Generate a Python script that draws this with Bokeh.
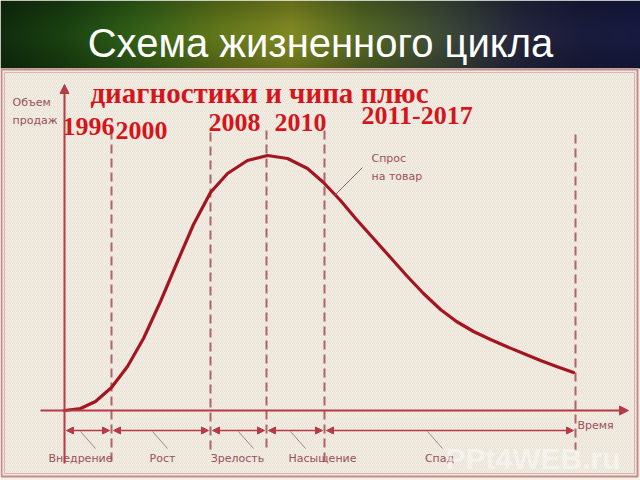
import numpy as np
from bokeh.plotting import figure
from bokeh.models import Range1d, Arrow, NormalHead
from bokeh.core.properties import value
from bokeh.embed import file_html
from bokeh.resources import INLINE

# ---- content -------------------------------------------------------------
title = "Схема жизненного цикла"
product = "диагностики и чипа плюс"
y_axis_label = ["Объем", "продаж"]
x_axis_label = "Время"
curve_label = ["Спрос", "на товар"]
stages = ["Внедрение", "Рост", "Зрелость", "Насыщение", "Спад"]
years = ["1996", "2000", "2008", "2010", "2011-2017"]

# stage boundaries along the time axis (chart units, origin at the axis corner)
stage_bounds = [0, 47, 146, 202, 260, 511]

# demand curve: time vs sales volume (chart units)
time = [0, 16, 31, 47, 63, 79, 96, 113, 129, 146, 163, 183, 203, 223, 243,
        259, 276, 292, 309, 326, 342, 359, 376, 392, 409, 426, 442, 459,
        476, 492, 509]
sales = [0, 2, 9, 23, 44, 72, 109, 149, 186, 218, 237, 250, 255, 252, 242,
         228, 210, 191, 172, 153, 135, 117, 101, 89, 79, 71, 64, 57,
         50, 44, 38]

# ---- page geometry helpers (canvas pixels -> chart units) -----------------
OX, OY = 64, 410
def X(px):
    return px - OX
def Y(py):
    return OY - py

W, H = 640, 480
p = figure(width=W, height=H, output_backend="svg", toolbar_location=None,
           x_range=Range1d(X(0), X(W)), y_range=Range1d(Y(H), Y(0)),
           x_axis_location=None, y_axis_location=None, min_border=0)
p.grid.visible = False
p.outline_line_color = None
p.background_fill_color = "#f4efe7"
p.border_fill_color = "#f4efe7"

# ---- title band with soft green / olive / navy gradient -------------------
band_h = 68
stops_x = [0, 60, 130, 220, 290, 360, 440, 520, 580, 640]
stops_c = [(16, 42, 12), (24, 60, 16), (44, 88, 22), (92, 112, 26),
           (120, 128, 32), (78, 98, 34), (58, 70, 52), (34, 36, 58),
           (24, 26, 56), (22, 24, 60)]
xs = np.arange(W)
rgb = np.stack([np.interp(xs, stops_x, [c[k] for c in stops_c]) for k in range(3)], axis=1)
rows = np.arange(band_h)
shade = 0.82 + 0.25 * np.exp(-((rows - 34) / 26.0) ** 2)
img = np.empty((band_h, W), dtype=np.uint32)
view = img.view(dtype=np.uint8).reshape((band_h, W, 4))
for r in range(band_h):
    col = np.clip(rgb * shade[r], 0, 255)
    rr = band_h - 1 - r  # image rows run bottom-up
    view[rr, :, 0] = col[:, 0]
    view[rr, :, 1] = col[:, 1]
    view[rr, :, 2] = col[:, 2]
    view[rr, :, 3] = 255
p.image_rgba(image=[img], x=X(0), y=Y(band_h), dw=W, dh=band_h)

p.text(x=[X(320)], y=[Y(42)], text=[title], text_color="white",
       text_font=value("Liberation Sans"), text_font_size="40px",
       text_align="center", text_baseline="middle")

# ---- panel with hatched paper and double border ---------------------------
p.quad(left=X(1), right=X(638), top=Y(band_h), bottom=Y(477),
       fill_color="#f4efe7", line_color=None,
       hatch_pattern="/", hatch_color="#e3dacb", hatch_alpha=0.7,
       hatch_scale=4, hatch_weight=1)
p.quad(left=X(1), right=X(637), top=Y(band_h + 1), bottom=Y(476),
       fill_color=None, line_color="#c88c8c", line_width=2)
p.quad(left=X(4), right=X(634), top=Y(band_h + 4), bottom=Y(473),
       fill_color=None, line_color="#d9b4b0", line_width=1)

axis_col = "#b83a44"
dash_col = "#a8545c"
curve_col = "#a4161f"
text_col = "#9c5058"
small_font = value("DejaVu Sans")

# ---- axes -----------------------------------------------------------------
p.add_layout(Arrow(end=NormalHead(size=9, fill_color=axis_col, line_color=axis_col),
                   x_start=X(64), y_start=Y(463), x_end=X(64), y_end=Y(84),
                   line_color=axis_col, line_width=2))
p.add_layout(Arrow(end=NormalHead(size=9, fill_color=axis_col, line_color=axis_col),
                   x_start=X(40), y_start=Y(410), x_end=X(628), y_end=Y(410),
                   line_color=axis_col, line_width=2))

# ---- stage boundaries (dashed) --------------------------------------------
dash_top = [Y(130), Y(132), Y(130), Y(130), Y(134)]
dash_bot = [Y(463), Y(452), Y(448), Y(462), Y(450)]
for b, t, bt in zip(stage_bounds[1:], dash_top, dash_bot):
    p.line(x=[b, b], y=[t, bt], line_color=dash_col, line_width=2,
           line_dash="9 5", line_alpha=0.9)

# ---- stage spans with double arrows, leaders and names --------------------
span_y = Y(430)
name_y = Y(458)
name_x = [X(80), X(162), X(237), X(322), X(439)]
leader_x = [X(80), X(152), X(238), X(290), X(427)]
for i, name in enumerate(stages):
    a, b = stage_bounds[i], stage_bounds[i + 1]
    p.add_layout(Arrow(start=NormalHead(size=7, fill_color=axis_col, line_color=axis_col),
                       end=NormalHead(size=7, fill_color=axis_col, line_color=axis_col),
                       x_start=a + 2, y_start=span_y, x_end=b - 2, y_end=span_y,
                       line_color=axis_col, line_width=1.6))
    lx = leader_x[i]
    p.line(x=[lx, lx + 15], y=[span_y - 1, span_y - 18],
           line_color="#8a7070", line_width=1, line_alpha=0.8)
    p.text(x=[name_x[i]], y=[name_y], text=[name],
           text_color=text_col, text_font=small_font,
           text_font_size="11px", text_align="center", text_baseline="middle")

# ---- axis captions --------------------------------------------------------
p.text(x=[X(12), X(12)], y=[Y(102), Y(120)], text=y_axis_label,
       text_color=text_col, text_font=small_font,
       text_font_size="11px", text_align="left", text_baseline="middle")
p.text(x=[X(577)], y=[Y(425)], text=[x_axis_label],
       text_color=text_col, text_font=small_font,
       text_font_size="11px", text_align="left", text_baseline="middle")

# ---- demand curve ---------------------------------------------------------
p.line(x=time, y=sales, line_color=curve_col, line_width=3.2,
       line_join="round", line_cap="round")
p.line(x=[X(334), X(362)], y=[Y(195), Y(167)], line_color="#8a6868", line_width=1)
p.text(x=[X(371), X(371)], y=[Y(158), Y(176)], text=curve_label,
       text_color=text_col, text_font=small_font,
       text_font_size="11px", text_align="left", text_baseline="middle")

# ---- product caption and years --------------------------------------------
red = "#d4161c"
p.text(x=[X(259)], y=[Y(92)], text=[product], text_color=red,
       text_font=value("Liberation Serif"), text_font_style="bold",
       text_font_size="29px", text_align="center", text_baseline="middle")
year_x = [X(62), X(115), X(208), X(274), X(361)]
year_y = [Y(126), Y(130), Y(122), Y(122), Y(115)]
p.text(x=year_x, y=year_y, text=years, text_color=red,
       text_font=value("Liberation Serif"), text_font_style="bold",
       text_font_size="26px", text_align="left", text_baseline="middle")

# faint site mark
p.text(x=[X(445)], y=[Y(458)], text=["PPt4WEB.ru"], text_color="white",
       text_alpha=0.45, text_font=value("Liberation Sans"), text_font_style="bold",
       text_font_size="30px", text_align="left", text_baseline="middle")

open("out.html", "w").write(file_html(p, INLINE))
